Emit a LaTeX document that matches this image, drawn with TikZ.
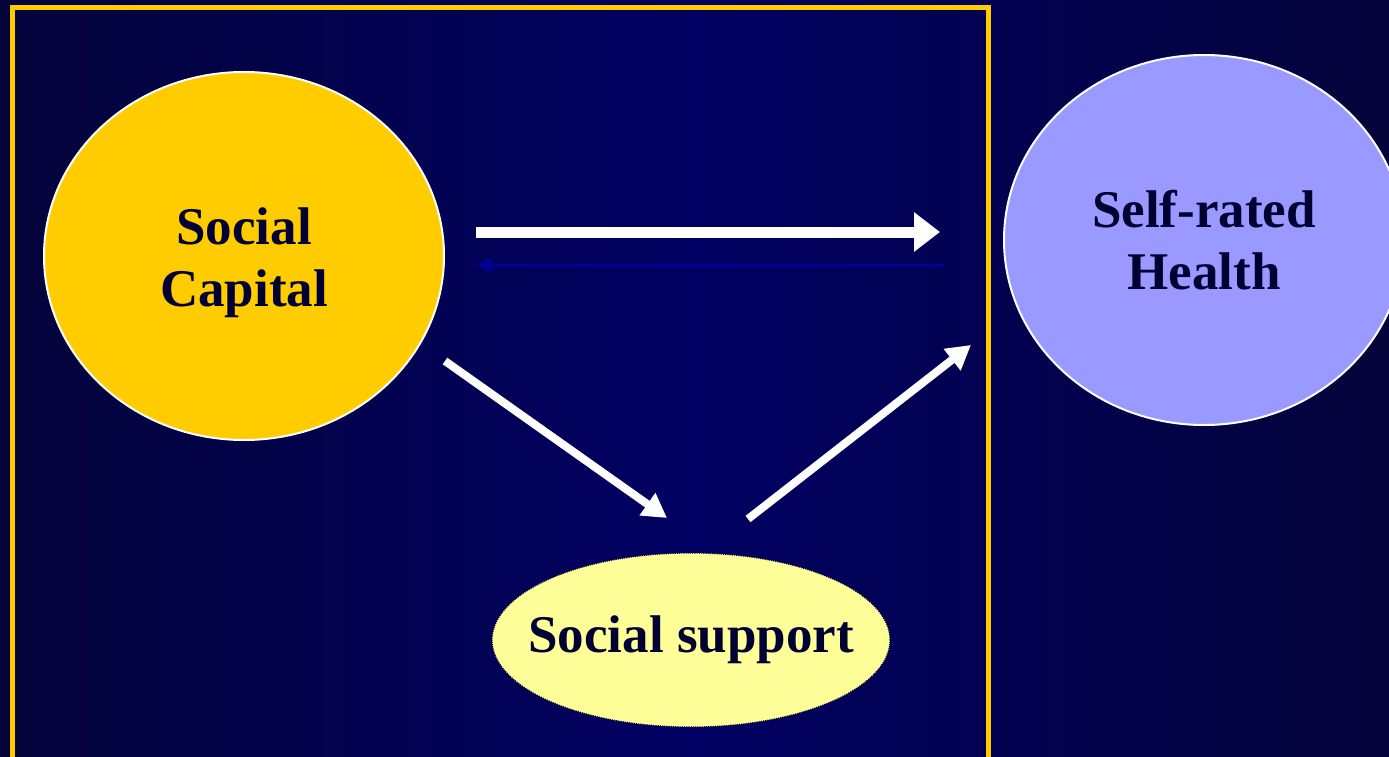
\documentclass[tikz,border=0pt]{standalone}
\usepackage{fontspec}
\setmainfont{Liberation Serif}
\usetikzlibrary{shapes.geometric,arrows.meta}
\definecolor{bgedge}{HTML}{04033A}
\definecolor{bgmid}{HTML}{000062}
\definecolor{framegold}{HTML}{FFCC00}
\definecolor{capgold}{HTML}{FFCC00}
\definecolor{healthlav}{HTML}{9999FF}
\definecolor{supportyel}{HTML}{FFFF99}
\definecolor{inknavy}{HTML}{000033}
\definecolor{backblue}{HTML}{000099}
\tikzset{
  conceptfont/.style={text=inknavy, font=\bfseries\fontsize{53}{62}\selectfont},
  concept/.style={ellipse, inner sep=0pt, align=center, conceptfont},
  solidrim/.style={draw=white, line width=2pt},
  bigarrow/.style={draw=white, line width=11pt,
    -{Triangle[length=26pt,width=38pt]}},
  diagarrow/.style={draw=white, line width=8pt,
    -{Triangle[length=24pt,width=26pt]}},
  backarrow/.style={draw=backblue, line width=3pt,
    -{Triangle[length=14pt,width=14pt]}}
}
\begin{document}
\begin{tikzpicture}[x=1pt,y=-1pt]
  \useasboundingbox (0,0) rectangle (1389,757);
  \clip (0,0) rectangle (1389,757);
  % background
  \shade[left color=bgedge, right color=bgedge, middle color=bgmid]
    (0,0) rectangle (1389,757);
  % gold frame around the left part
  \draw[framegold, line width=4.5pt] (12.5,7.5) rectangle (988.5,790);

  % concepts (text boxes kept at zero width so the ellipse size is fixed)
  \node[concept, solidrim, fill=capgold, minimum width=400pt, minimum height=368pt,
    label={[conceptfont, align=center, yshift=-7pt]center:Social\\Capital}]
    (cap) at (244,256) {};
  \node[concept, solidrim, fill=healthlav, minimum width=400pt, minimum height=370pt]
    (health) at (1204,240) {Self-rated\\Health};
  \node[concept, draw=inknavy, densely dotted, line width=1.2pt, fill=supportyel,
    minimum width=398pt, minimum height=174pt]
    (support) at (691,640) {\makebox[0pt]{\raisebox{-3pt}{Social support}}};

  % arrow end points
  \coordinate (h1s) at (476,232);
  \coordinate (h1e) at (940,232);
  \coordinate (h2s) at (944,265);
  \coordinate (h2e) at (477,265);
  \coordinate (d1s) at (445,361);
  \coordinate (d1e) at (667,518);
  \coordinate (d2s) at (748,519);
  \coordinate (d2e) at (971,345);

  % connectors
  \draw[bigarrow] (h1s) -- (h1e);
  \draw[backarrow] (h2s) -- (h2e);
  \draw[diagarrow] (d1s) -- (d1e);
  \draw[diagarrow] (d2s) -- (d2e);
\end{tikzpicture}
\end{document}
